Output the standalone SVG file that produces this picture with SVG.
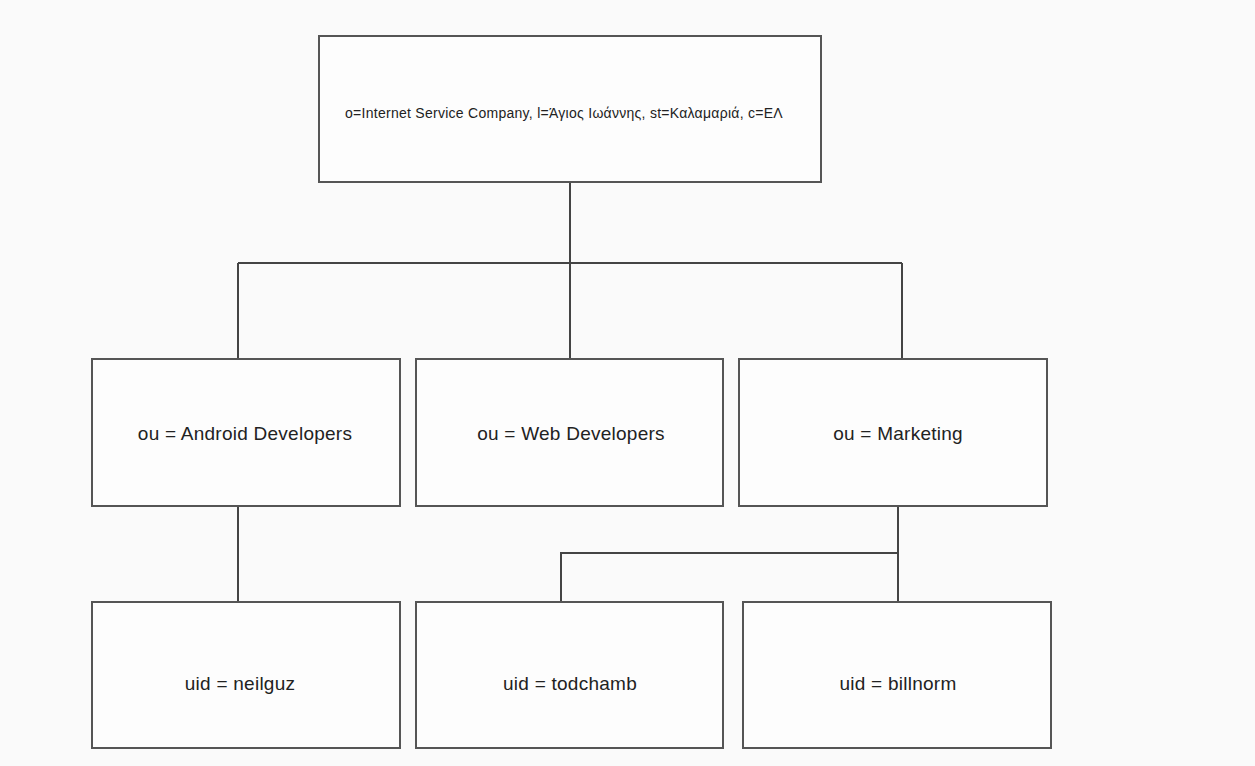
<svg xmlns="http://www.w3.org/2000/svg" width="1255" height="766" viewBox="0 0 1255 766">
<style>
.box{fill:#fdfdfd;stroke:#555;stroke-width:2}
.lbl{font-family:"Liberation Sans",Arial,sans-serif;font-size:19px;letter-spacing:0.25px;fill:#222;text-anchor:middle}
.sm{font-size:14px;letter-spacing:0.27px}
.edge{fill:none;stroke:#444;stroke-width:2}
</style>
<rect x="0" y="0" width="1255" height="766" fill="#fafafa"/>
<g id="connectors">
<path class="edge" d="M570 182 V263 M238 263 H902 M238 263 V359 M570 263 V359 M902 263 V359"/>
<path class="edge" d="M238 506 V602"/>
<path class="edge" d="M898 506 V602 M560 553 H898 M561 553 V602"/>
</g>
<g id="root"><rect class="box" x="319" y="36" width="502" height="146"/><text class="lbl sm" x="564" y="118">o=Internet Service Company, l=Άγιος Ιωάννης, st=Καλαμαριά, c=ΕΛ</text></g>
<g id="android"><rect class="box" x="92" y="359" width="308" height="147"/><text class="lbl" x="245" y="440">ou = Android Developers</text></g>
<g id="web"><rect class="box" x="416" y="359" width="307" height="147"/><text class="lbl" x="571" y="440">ou = Web Developers</text></g>
<g id="marketing"><rect class="box" x="739" y="359" width="308" height="147"/><text class="lbl" x="898" y="440">ou = Marketing</text></g>
<g id="neilguz"><rect class="box" x="92" y="602" width="308" height="146"/><text class="lbl" x="240" y="690">uid = neilguz</text></g>
<g id="todchamb"><rect class="box" x="416" y="602" width="307" height="146"/><text class="lbl" x="570" y="690">uid = todchamb</text></g>
<g id="billnorm"><rect class="box" x="743" y="602" width="308" height="146"/><text class="lbl" x="898" y="690">uid = billnorm</text></g>
</svg>
